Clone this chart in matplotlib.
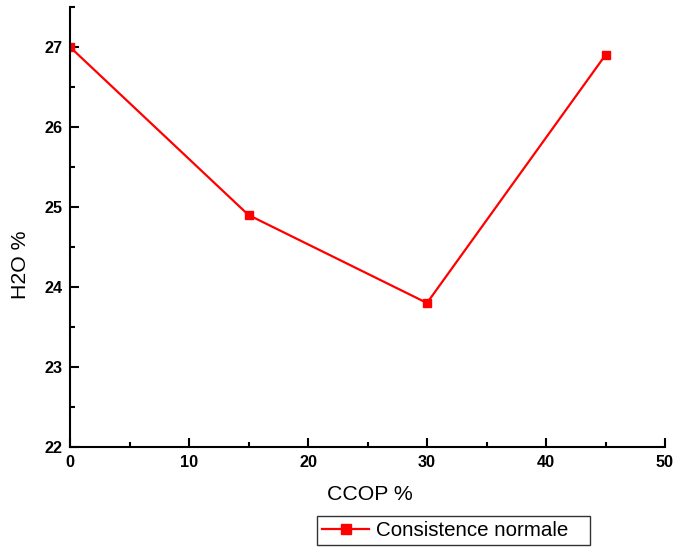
import numpy as np
import matplotlib
matplotlib.use('Agg')
import matplotlib.pyplot as plt
from matplotlib.ticker import MultipleLocator

# data
ccop = [0, 15, 30, 45]
h2o = [27.0, 24.9, 23.8, 26.9]
series_name = 'Consistence normale'

plt.rcParams['font.family'] = ['Liberation Sans', 'DejaVu Sans']

fig = plt.figure(figsize=(6.76, 5.47), dpi=100)
ax = fig.add_axes([70/676., 1-447/547., 595/676., 440/547.])

ax.plot(ccop, h2o, color='red', lw=1.6, marker='s', ms=6.3, mfc='red', mec='red',
        label=series_name)

ax.set_xlim(0, 50)
ax.set_ylim(22, 27.5)
ax.xaxis.set_major_locator(MultipleLocator(10))
ax.xaxis.set_minor_locator(MultipleLocator(5))
ax.yaxis.set_major_locator(MultipleLocator(1))
ax.yaxis.set_minor_locator(MultipleLocator(0.5))

for s in ['top', 'right']:
    ax.spines[s].set_visible(False)
for s in ['left', 'bottom']:
    ax.spines[s].set_linewidth(1.5)

ax.tick_params(which='major', direction='in', length=6.5, width=1.5, labelsize=11.7)
ax.tick_params(axis='y', which='major', pad=5.5)
ax.tick_params(axis='x', which='major', pad=6)
ax.tick_params(which='minor', direction='in', length=3.5, width=1.5)
for lab in ax.get_xticklabels() + ax.get_yticklabels():
    lab.set_fontweight('bold')

fig.text(370/676., 1-494/547., 'CCOP %', fontsize=15.3, ha='center', va='center')
fig.text(21/676., 1-265/547., 'H2O %', fontsize=15.3, ha='center', va='center', rotation=90)

leg = fig.legend(loc='lower left', bbox_to_anchor=(317/676., 2/547., 273/676., 31/547.),
                 mode='expand', fontsize=14.8, markerscale=1.2,
                 frameon=True, fancybox=False, handlelength=2.3, borderpad=0.25,
                 handletextpad=0.3, borderaxespad=0)
leg.get_frame().set_edgecolor('black')
leg.get_frame().set_linewidth(1.0)

plt.savefig('out.png', dpi=100)
plt.close()
